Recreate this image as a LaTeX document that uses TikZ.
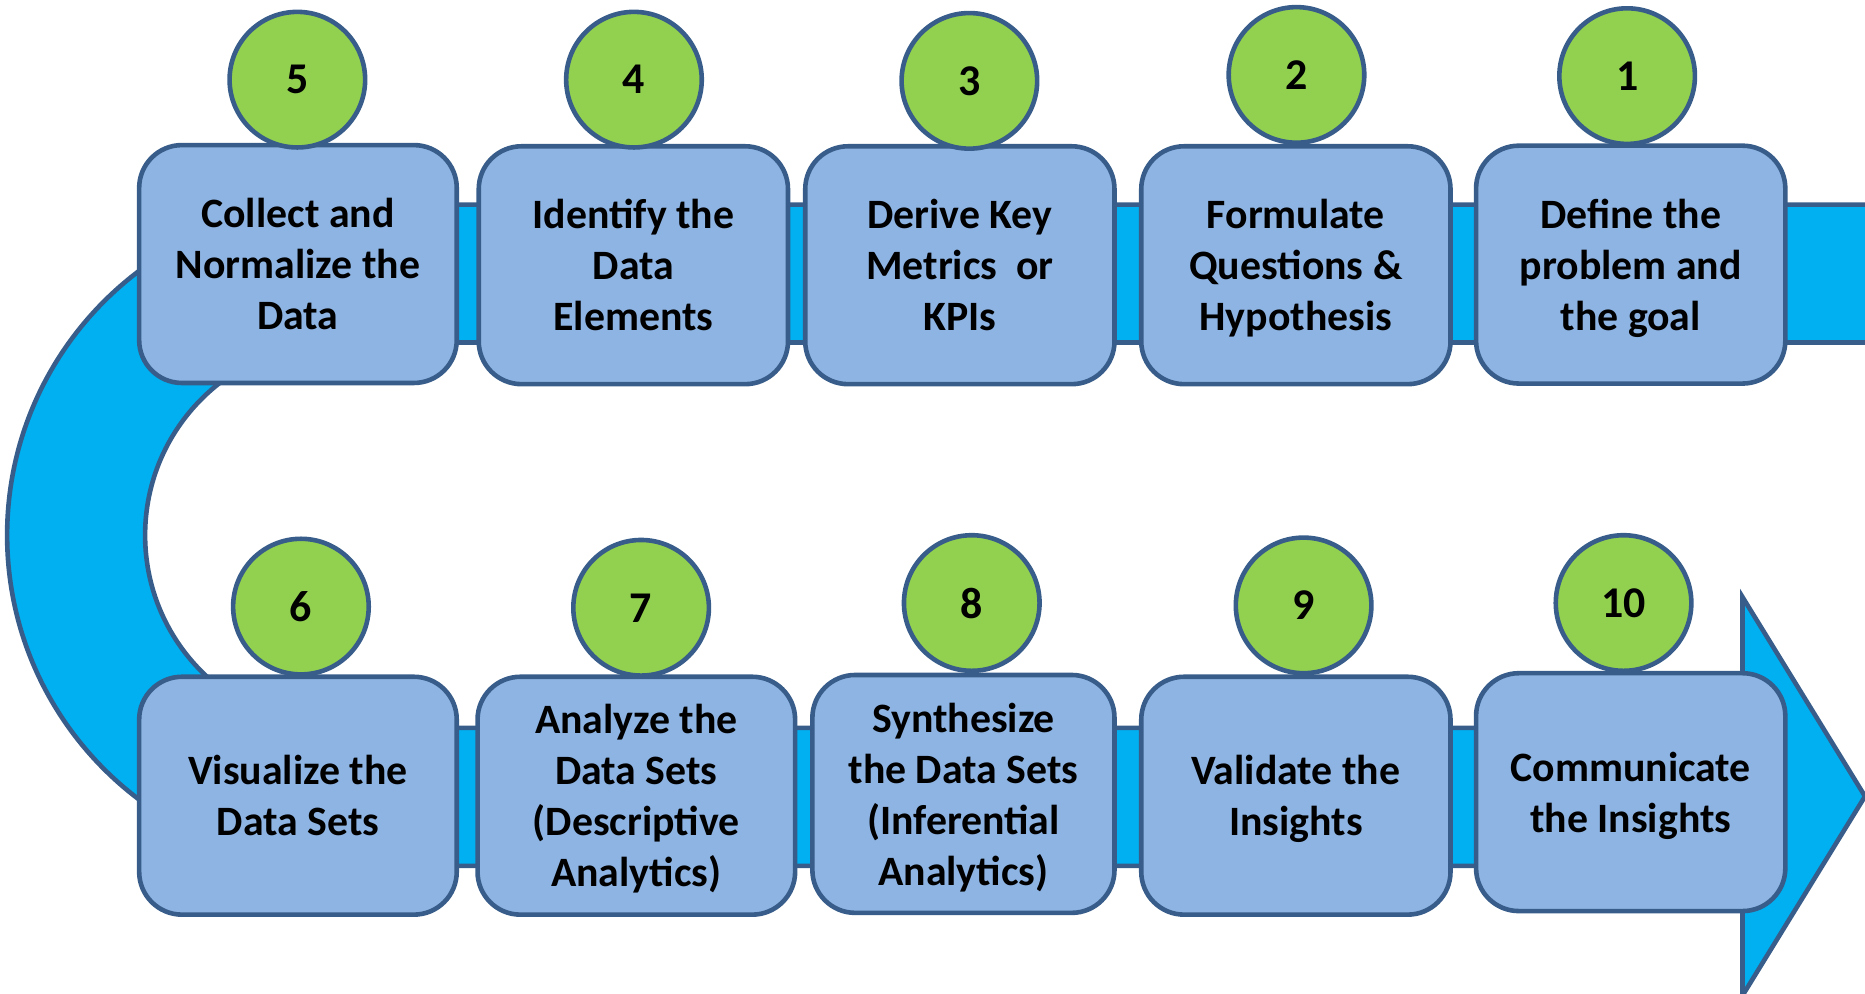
\documentclass[tikz,border=0pt]{standalone}
\usepackage{fontspec}
\setmainfont{Carlito}
\usepackage{xcolor}
\definecolor{boxblue}{RGB}{142,180,227}
\definecolor{bandcyan}{RGB}{0,176,240}
\definecolor{numgreen}{RGB}{146,208,80}
\definecolor{edgeblue}{RGB}{56,93,138}
\usepackage{tikz}
\usetikzlibrary{calc}
\newcommand{\widthtask}{2.6cm}
\newcommand{\widthwide}{2.67cm}
\tikzset{
    common/.style={draw=edgeblue, line width=1.1pt},
    task/.style={common, fill=boxblue, rounded corners=0.36cm, minimum width=\widthtask, minimum height=2cm,
        align=center, inner sep=0pt, text depth=0pt, font=\fontsize{10}{12.2}\selectfont\bfseries},
    widetask/.style={task, minimum width=\widthwide},
    num/.style={common, circle, fill=numgreen, minimum size=1.14cm, inner sep=0pt,
        font=\fontsize{10.5}{12}\selectfont\bfseries},
    band/.style={common, fill=bandcyan, line join=miter}
}

\begin{document}
\begin{tikzpicture}
    \useasboundingbox (0,0) rectangle (15.68,8.35);
    \clip (0,0) rectangle (15.68,8.35);

    % u-turn band with the arrow head
    \draw[band] (16,6.63) -- (2.84,6.63)
        arc[start angle=90, end angle=270, radius=2.78]
        -- (14.65,1.07) -- (14.65,-0.02) -- (15.68,1.655) -- (14.65,3.33) -- (14.65,2.23)
        -- (2.84,2.23)
        arc[start angle=270, end angle=90, radius=1.62]
        -- (16,5.47);

    % top row, right to left
    \path
        node[widetask] (t5) at (2.505,6.13) {Collect and\\Normalize the\\Data}
        node[task] (t4) at (5.325,6.12) {Identify the\\Data\\Elements}
        node[task] (t3) at (8.07,6.12) {Derive Key\\Metrics\ \ or\\KPIs}
        node[task] (t2) at (10.895,6.12) {Formulate\\Questions \&\\Hypothesis}
        node[task] (t1) at (13.71,6.125) {Define the\\problem and\\the goal};

    % bottom row, left to right
    \path
        node[widetask] (t6) at (2.505,1.66) {Visualize the\\Data Sets}
        node[widetask] (t7) at (5.35,1.66) {Analyze the\\Data Sets\\(Descriptive\\Analytics)}
        node[task, minimum width=2.54cm] (t8) at (8.10,1.675) {Synthesize\\the Data Sets\\(Inferential\\Analytics)}
        node[task] (t9) at (10.895,1.66) {Validate the\\Insights}
        node[task] (t10) at (13.71,1.69) {Communicate\\the Insights};

    % numbers
    \node[num] (n5) at (2.50,7.68) {5};
    \node[num] (n4) at (5.33,7.68) {4};
    \node[num] (n3) at (8.15,7.67) {3};
    \node[num] (n2) at (10.90,7.72) {2};
    \node[num] (n1) at (13.68,7.71) {1};
    \node[num] (n6) at (2.53,3.25) {6};
    \node[num] (n7) at (5.39,3.24) {7};
    \node[num] (n8) at (8.17,3.28) {8};
    \node[num] (n9) at (10.96,3.26) {9};
    \node[num] (n10) at (13.65,3.28) {10};
\end{tikzpicture}
\end{document}
